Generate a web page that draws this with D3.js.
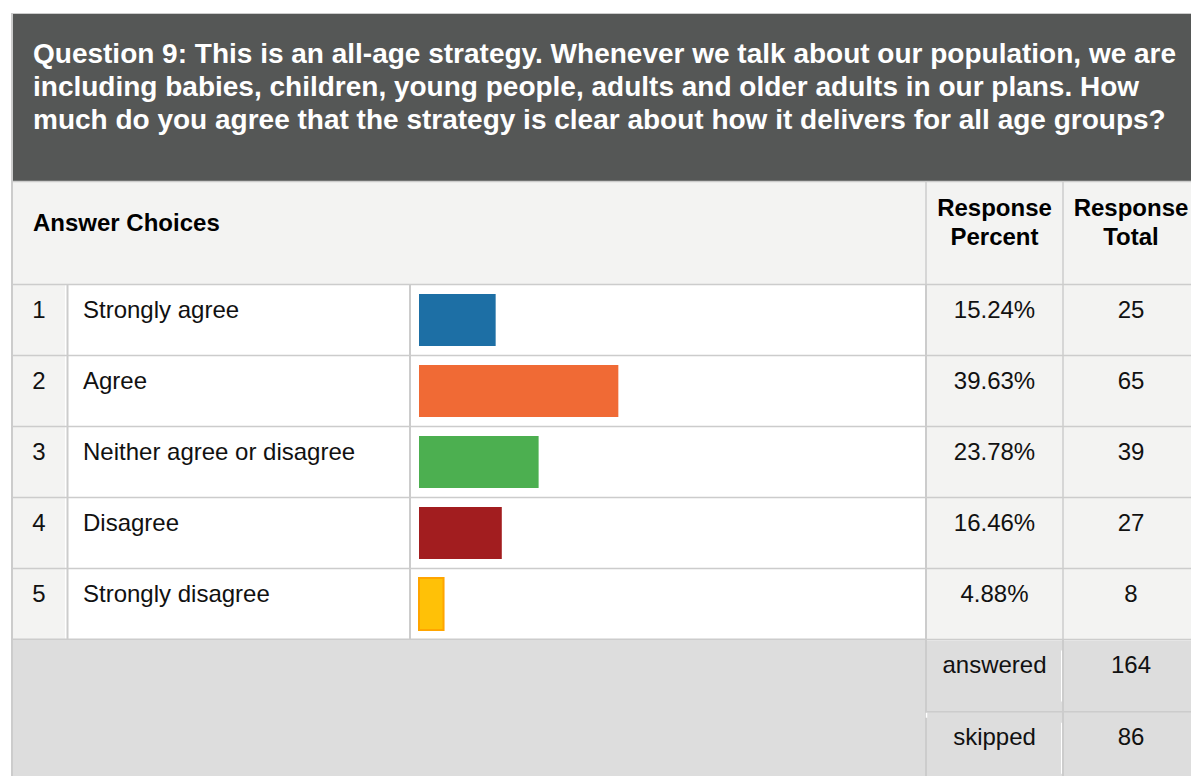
<!DOCTYPE html>
<html>
<head>
<meta charset="utf-8">
<script src="https://cdn.jsdelivr.net/npm/d3@7"></script>
<style>
  html, body { margin: 0; padding: 0; background: #ffffff; }
  svg { display: block; }
  text { font-family: "Liberation Sans", Arial, Helvetica, sans-serif; }
</style>
</head>
<body>
<svg id="chart" width="1191" height="776"></svg>
<script>
const titleLines = [
  "Question 9: This is an all-age strategy. Whenever we talk about our population, we are",
  "including babies, children, young people, adults and older adults in our plans. How",
  "much do you agree that the strategy is clear about how it delivers for all age groups?"
];
const categories = ["Strongly agree", "Agree", "Neither agree or disagree", "Disagree", "Strongly disagree"];
const percents = [15.24, 39.63, 23.78, 16.46, 4.88];
const totals = [25, 65, 39, 27, 8];
const barColors = ["#1d6fa5", "#f06a35", "#4caf50", "#a21d1f", "#ffc107"];
const summaryLabels = ["answered", "skipped"];
const summaryValues = [164, 86];

const svg = d3.select("#chart");
const W = 1191, H = 776;
const grid = "#cccccc";
const light = "#f3f3f2";

// columns
const L = 13, cNum = 67, cLab = 410, cBar = 926, cPct = 1063, R = 1191;
const rowTop = 284.5, rowBottom = 639.5;

svg.append("rect").attr("x", 0).attr("y", 0).attr("width", W).attr("height", H).attr("fill", "#ffffff");

// title block
svg.append("rect").attr("x", L).attr("y", 14).attr("width", R - L).attr("height", 167).attr("fill", "#555756");
svg.append("g").selectAll("text").data(titleLines).join("text")
  .attr("x", 33).attr("y", (d, i) => 62.5 + i * 33)
  .attr("fill", "#ffffff").attr("font-size", 28).attr("font-weight", "bold")
  .text(d => d);

// header row
svg.append("rect").attr("x", L).attr("y", 182).attr("width", R - L).attr("height", rowTop - 182).attr("fill", light);
svg.append("line").attr("x1", L).attr("x2", R).attr("y1", 181.5).attr("y2", 181.5).attr("stroke", grid).attr("stroke-width", 1.5);
svg.append("text").attr("x", 33).attr("y", 231).attr("font-size", 24).attr("font-weight", "bold").attr("fill", "#000")
  .text("Answer Choices");
const hdr = svg.append("g").attr("font-size", 24).attr("font-weight", "bold").attr("text-anchor", "middle").attr("fill", "#000");
[[(cBar + cPct) / 2, "Response", "Percent"], [1131, "Response", "Total"]].forEach(([cx, a, b]) => {
  hdr.append("text").attr("x", cx).attr("y", 216).text(a);
  hdr.append("text").attr("x", cx).attr("y", 245).text(b);
});

// rows
const y = d3.scaleBand().domain(categories).range([rowTop, rowBottom]).paddingInner(0).paddingOuter(0);
const x = d3.scaleLinear().domain([0, 100]).range([419, 922]);

const rows = svg.append("g").selectAll("g").data(categories).join("g")
  .attr("transform", d => `translate(0,${y(d)})`);
const bh = y.bandwidth();

rows.append("rect").attr("x", L).attr("y", 0).attr("width", cNum - L - 2).attr("height", bh).attr("fill", light);
rows.append("rect").attr("x", cNum - 2).attr("y", 0).attr("width", 2).attr("height", bh).attr("fill", "#ffffff");
rows.append("rect").attr("x", cNum).attr("y", 0).attr("width", cBar - cNum).attr("height", bh).attr("fill", "#ffffff");
rows.append("rect").attr("x", cBar).attr("y", 0).attr("width", R - cBar).attr("height", bh).attr("fill", light);

rows.append("text").attr("x", 39).attr("y", 33).attr("text-anchor", "middle").attr("font-size", 24).attr("fill", "#111")
  .text((d, i) => i + 1);
rows.append("text").attr("x", 83).attr("y", 33).attr("font-size", 24).attr("fill", "#111").text(d => d);
rows.append("text").attr("x", (cBar + cPct) / 2).attr("y", 33).attr("text-anchor", "middle").attr("font-size", 24).attr("fill", "#111")
  .text((d, i) => percents[i].toFixed(2) + "%");
rows.append("text").attr("x", 1131).attr("y", 33).attr("text-anchor", "middle").attr("font-size", 24).attr("fill", "#111")
  .text((d, i) => totals[i]);

rows.append("rect")
  .attr("x", x(0))
  .attr("y", 9.5)
  .attr("width", (d, i) => x(percents[i]) - x(0))
  .attr("height", 52)
  .attr("fill", (d, i) => barColors[i])
  .attr("stroke", (d, i) => i === 4 ? "#ffa500" : "none")
  .attr("stroke-width", 2);

// row lines
svg.append("g").selectAll("line").data(categories).join("line")
  .attr("x1", L).attr("x2", R)
  .attr("y1", d => y(d)).attr("y2", d => y(d))
  .attr("stroke", grid).attr("stroke-width", 1.5);

// vertical lines in body
[[cNum + 0.5, 2], [cLab, 2], [cBar, 2], [cPct, 1.5]].forEach(([xx, sw]) => {
  svg.append("line").attr("x1", xx).attr("x2", xx).attr("y1", rowTop).attr("y2", rowBottom)
    .attr("stroke", grid).attr("stroke-width", sw);
});
[cBar, cPct].forEach(xx => {
  svg.append("line").attr("x1", xx).attr("x2", xx).attr("y1", 182).attr("y2", rowTop)
    .attr("stroke", grid).attr("stroke-width", 1.5);
});

// footer
svg.append("rect").attr("x", L).attr("y", rowBottom + 1).attr("width", R - L).attr("height", H - rowBottom).attr("fill", "#dddddd");
svg.append("line").attr("x1", L).attr("x2", cBar).attr("y1", rowBottom).attr("y2", rowBottom).attr("stroke", grid).attr("stroke-width", 2);
svg.append("line").attr("x1", cBar).attr("x2", R).attr("y1", rowBottom).attr("y2", rowBottom).attr("stroke", grid).attr("stroke-width", 1.5);
const fy = d3.scaleBand().domain(summaryLabels).range([rowBottom, 784]);
svg.append("line").attr("x1", cBar).attr("x2", R).attr("y1", fy("skipped")).attr("y2", fy("skipped")).attr("stroke", grid).attr("stroke-width", 1.5);
[cBar, cPct].forEach(xx => {
  svg.append("line").attr("x1", xx).attr("x2", xx).attr("y1", rowBottom).attr("y2", H)
    .attr("stroke", grid).attr("stroke-width", 2);
});
// subtle white inner edges
summaryLabels.forEach(s => {
  svg.append("line").attr("x1", cPct - 1.5).attr("x2", cPct - 1.5).attr("y1", fy(s) + 11).attr("y2", fy(s) + 62)
    .attr("stroke", "#ffffff").attr("stroke-width", 1);
});
svg.append("line").attr("x1", cBar + 0.5).attr("x2", cBar + 0.5).attr("y1", fy("skipped") + 1).attr("y2", fy("skipped") + 6)
  .attr("stroke", "#ffffff").attr("stroke-width", 1.5);

const foot = svg.append("g").attr("font-size", 24).attr("text-anchor", "middle").attr("fill", "#111");
summaryLabels.forEach((s, i) => {
  foot.append("text").attr("x", (cBar + cPct) / 2).attr("y", fy(s) + 33).text(s);
  foot.append("text").attr("x", 1131).attr("y", fy(s) + 33).text(summaryValues[i]);
});

// outer border
svg.append("line").attr("x1", 12).attr("x2", 12).attr("y1", 13).attr("y2", H).attr("stroke", grid).attr("stroke-width", 2);
svg.append("line").attr("x1", 11).attr("x2", R).attr("y1", 13.5).attr("y2", 13.5).attr("stroke", grid).attr("stroke-width", 1);
</script>
</body>
</html>
